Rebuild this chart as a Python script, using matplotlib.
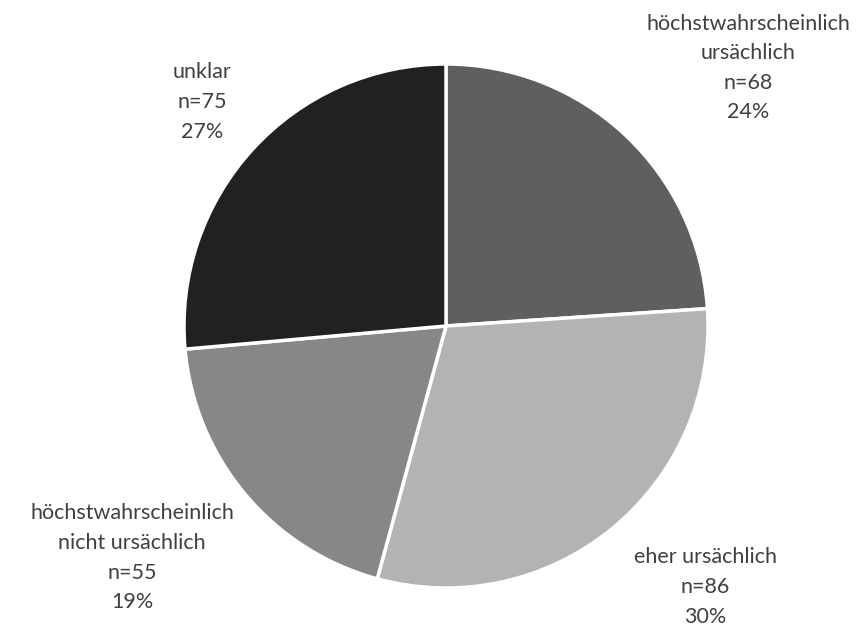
import matplotlib.pyplot as plt

# Kausalitätsbewertung der Fälle
categories = ["höchstwahrscheinlich\nursächlich", "eher ursächlich",
              "höchstwahrscheinlich\nnicht ursächlich", "unklar"]
counts = [68, 86, 55, 75]
percents = [24, 30, 19, 27]
colors = ["#5f5f5f", "#b3b3b3", "#878787", "#212121"]

# label placement in pie units (radius = 1)
label_pos = [(1.153, 0.985), (0.989, -0.996), (-1.198, -0.885), (-0.931, 0.855)]

plt.rcParams['font.family'] = ['Lato', 'DejaVu Sans']

fig = plt.figure(figsize=(8.58, 6.27), dpi=100)
ax = fig.add_axes([184 / 858, 39 / 627, 524 / 858, 524 / 627])

ax.pie(counts, colors=colors, startangle=90, counterclock=False,
       wedgeprops=dict(edgecolor="white", linewidth=2.5))

for cat, n, p, (x, y) in zip(categories, counts, percents, label_pos):
    ax.text(x, y, f"{cat}\nn={n}\n{p}%", ha="center", va="center",
            fontsize=15.5, color="#404040", linespacing=1.6)

ax.set_xlim(-1, 1)
ax.set_ylim(-1, 1)
ax.set_aspect("equal")
ax.axis("off")

plt.savefig("out.png", dpi=100)
